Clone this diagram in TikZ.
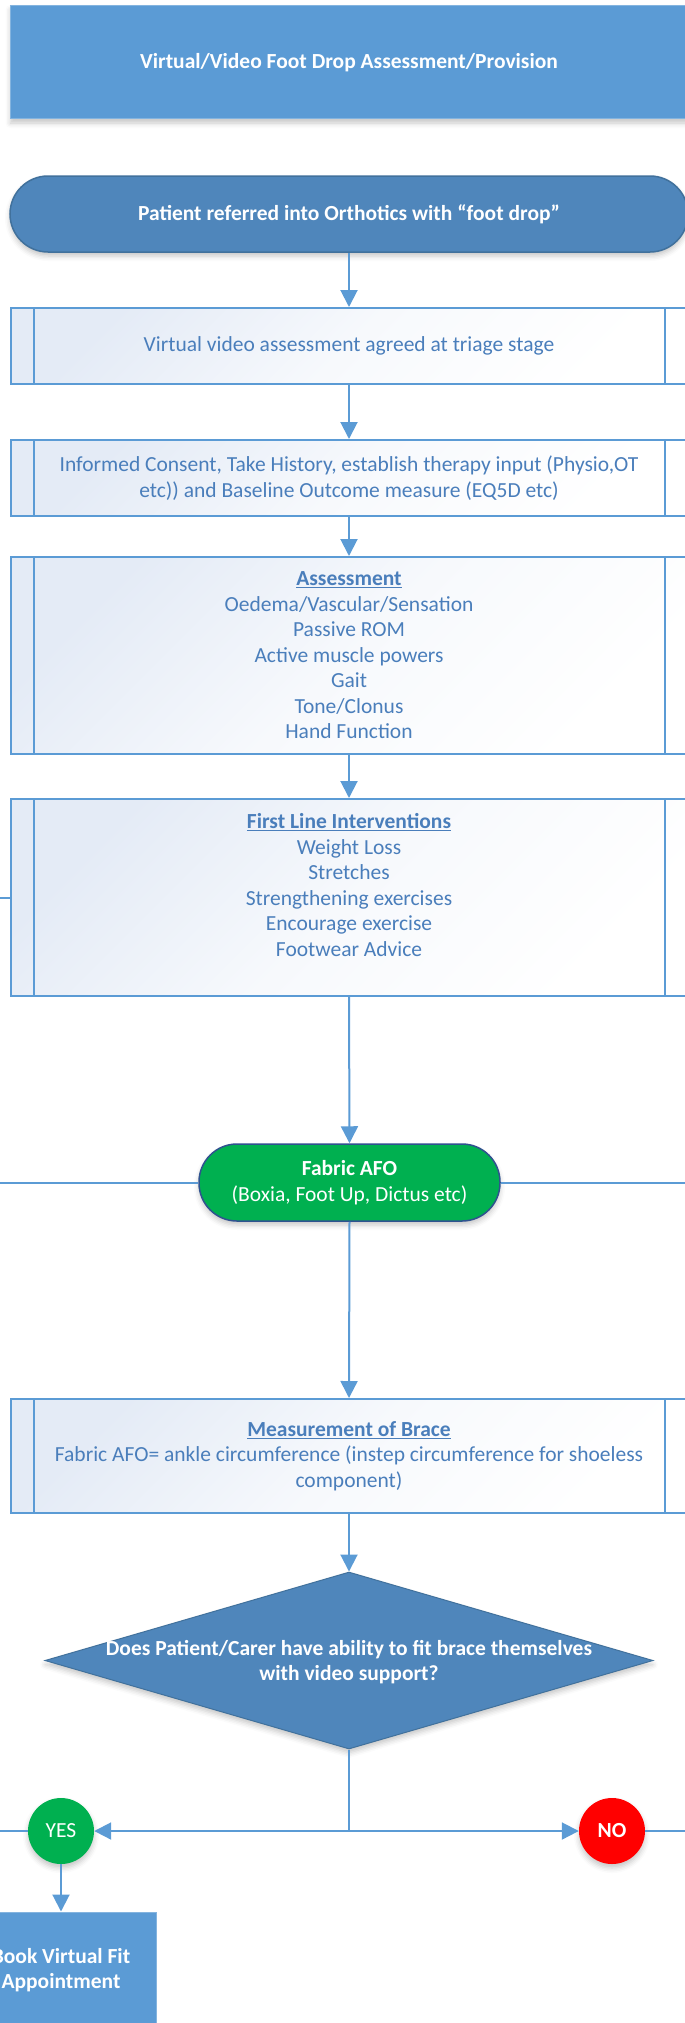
\documentclass[tikz,border=0pt]{standalone}
\usepackage{fontspec}
\setmainfont{Carlito}
\usetikzlibrary{arrows.meta,shapes.geometric,shadows.blur}
\definecolor{mainblue}{HTML}{5B9BD5}
\definecolor{darkfill}{HTML}{4F86BB}
\definecolor{darkedge}{HTML}{41719C}
\definecolor{txtblue}{HTML}{4A7EBB}
\definecolor{gradblue}{HTML}{E4EBF6}
\definecolor{afogreen}{HTML}{00B050}
\definecolor{afoedge}{HTML}{2F528F}
\definecolor{nored}{HTML}{FF0000}
\begin{document}
\begin{tikzpicture}[x=1pt,y=-1pt,
  font=\fontsize{21.5}{25.5}\selectfont,
  conn/.style={draw=mainblue, line width=2pt},
  arr/.style={conn, -{Triangle[length=17pt,width=17pt]}},
  softshadow/.style={blur shadow={shadow xshift=0pt,shadow yshift=-4pt,shadow blur radius=5pt,shadow opacity=22}},
  procbox/.style={draw=mainblue, line width=2pt, top color=gradblue, bottom color=white, middle color=white!70!gradblue, shading angle=45,
    minimum width=677pt, align=center, text=txtblue, inner sep=0pt,
    path picture={\draw[mainblue,line width=2pt]
      ([xshift=23pt]path picture bounding box.north west) -- ([xshift=23pt]path picture bounding box.south west)
      ([xshift=-23pt]path picture bounding box.north east) -- ([xshift=-23pt]path picture bounding box.south east);}},
  titlebox/.style={rectangle, fill=mainblue, draw=mainblue!75!white, line width=1pt, text=white,
    font=\fontsize{21.5}{25.5}\selectfont\bfseries, minimum width=677pt, minimum height=113pt, softshadow},
  termbox/.style={rectangle, rounded corners=38pt, fill=darkfill, draw=darkedge, line width=1.5pt, text=white,
    font=\fontsize{21.5}{25.5}\selectfont\bfseries, minimum width=678pt, minimum height=76pt, softshadow},
  afobox/.style={rectangle, rounded corners=38pt, fill=afogreen, draw=afoedge, line width=1.5pt, text=white,
    align=center, minimum width=301pt, minimum height=77pt, inner sep=0pt, softshadow},
  decide/.style={diamond, fill=darkfill, draw=darkedge, line width=1pt, minimum width=608pt, minimum height=177pt,
    inner sep=0pt, softshadow},
  answer/.style={circle, minimum size=66pt, inner sep=0pt, text=white, softshadow},
  bookbox/.style={rectangle, fill=mainblue, draw=mainblue!75!white, line width=1pt, text=white, align=center,
    font=\fontsize{21.5}{25.5}\selectfont\bfseries, minimum width=190pt, minimum height=116pt}
]
\useasboundingbox (0,0) rectangle (685,2023);

\node[titlebox] (title) at (349,62.5) {Virtual/Video Foot Drop Assessment/Provision};
\node[termbox] (patient) at (349,214) {Patient referred into Orthotics with “foot drop”};

\node[procbox, minimum height=76pt] (box1) at (349,346) {Virtual video assessment agreed at triage stage};
\node[procbox, minimum height=76pt] (box2) at (349,478) {Informed Consent, Take History, establish therapy input (Physio,OT\\etc)) and Baseline Outcome measure (EQ5D etc)};
\node[procbox, minimum height=197pt] (box3) at (349,655.5) {\underline{\textbf{Assessment}}\\Oedema/Vascular/Sensation\\Passive ROM\\Active muscle powers\\Gait\\Tone/Clonus\\Hand Function};
\node[procbox, minimum height=197pt] (box4) at (349,897.5) {\underline{\textbf{First Line Interventions}}\\Weight Loss\\Stretches\\Strengthening exercises\\Encourage exercise\\Footwear Advice\\\mbox{}};

\node[afobox] (afo) at (349.5,1182.5) {\textbf{Fabric AFO}\\(Boxia, Foot Up, Dictus etc)};

\node[procbox, minimum height=114pt] (box5) at (349,1456) {\underline{\textbf{Measurement of Brace}}\\Fabric AFO= ankle circumference (instep circumference for shoeless\\component)};

\node[decide] (dq) at (349,1660.5) {};
\node[text=white, align=center, font=\fontsize{21.5}{25.5}\selectfont\bfseries] (dqtext) at (349,1662) {Does Patient/Carer have ability to fit brace themselves\\with video support?};

\node[answer, fill=afogreen] (yes) at (61,1831) {YES};
\node[answer, fill=nored, font=\fontsize{21.5}{25.5}\selectfont\bfseries] (no) at (612,1831) {NO};
\node[bookbox] (book) at (61,1970) {Book Virtual Fit\\Appointment};

\coordinate (j) at (349,1831);
\coordinate (l1) at (-2,897.5);
\coordinate (l2) at (-2,1182.5);
\coordinate (r2) at (690,1182.5);
\coordinate (l3) at (-2,1831);
\coordinate (r3) at (690,1831);

\draw[arr] (patient.south) -- (box1.north);
\draw[arr] (box1.south) -- (box2.north);
\draw[arr] (box2.south) -- (box3.north);
\draw[arr] (box3.south) -- (box4.north);
\draw[arr] (box4.south) -- (afo.north);
\draw[arr] (afo.south) -- (box5.north);
\draw[arr] (box5.south) -- (dq.north);
\draw[conn] (dq.south) -- (j);
\draw[arr] (j) -- (yes.east);
\draw[arr] (j) -- (no.west);
\draw[arr] (yes.south) -- (book.north);
\draw[conn] (l1) -- (box4.west);
\draw[conn] (l2) -- (afo.west);
\draw[conn] (afo.east) -- (r2);
\draw[conn] (l3) -- (yes.west);
\draw[conn] (no.east) -- (r3);
\end{tikzpicture}
\end{document}
